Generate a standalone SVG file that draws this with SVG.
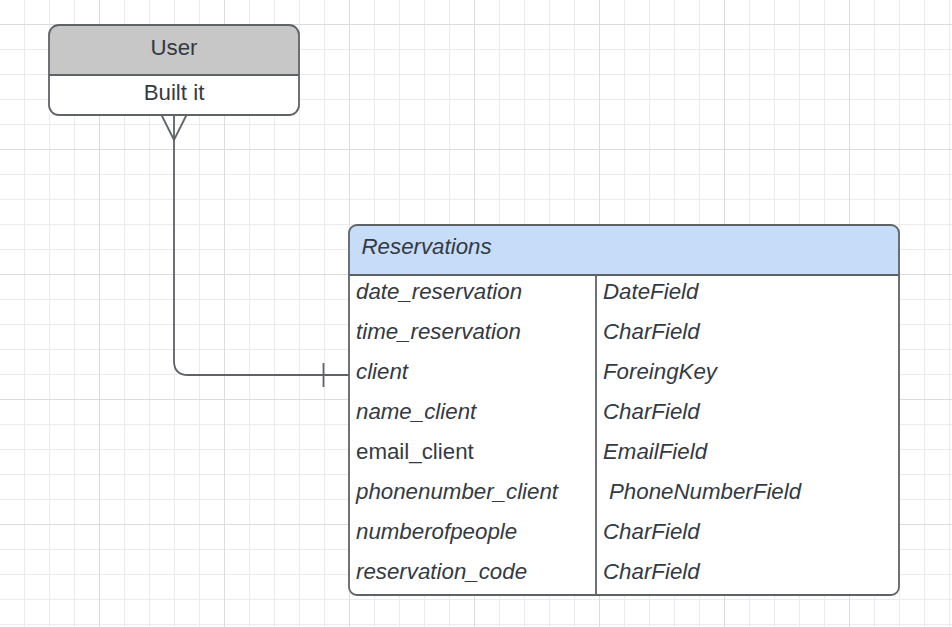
<svg xmlns="http://www.w3.org/2000/svg" width="952" height="627" viewBox="0 0 952 627">
<defs>
<pattern id="minor" patternUnits="userSpaceOnUse" x="24" y="24" width="25" height="25">
<path d="M0.5 0V25M0 0.5H25" stroke="#ebebeb" stroke-width="1" fill="none"/>
</pattern>
<pattern id="major" patternUnits="userSpaceOnUse" x="99" y="24" width="125" height="125">
<path d="M0.5 0V125M0 0.5H125" stroke="#dcdcdc" stroke-width="1" fill="none"/>
</pattern>
</defs>
<style>
.line{stroke:#5f6368;stroke-width:1.8;fill:none}
.t{font-family:"Liberation Sans",Arial,sans-serif;font-size:22.3px;fill:#333a44}
.i{font-style:italic}
</style>
<rect width="952" height="627" fill="#ffffff"/>
<rect width="952" height="627" fill="url(#minor)"/>
<rect width="952" height="627" fill="url(#major)"/>

<g id="connectors">
<path class="line" d="M174 115V361Q174 375 188 375H349"/>
<path class="line" d="M161.5 115L174 140L186.5 115"/>
<path class="line" d="M323.5 363V387"/>
</g>

<g id="user">
<rect x="49" y="25" width="250" height="90" rx="10" fill="#ffffff"/>
<path d="M59 25H289Q299 25 299 35V75H49V35Q49 25 59 25Z" fill="#c7c7c7"/>
<rect class="line" x="49" y="25" width="250" height="90" rx="10"/>
<line class="line" x1="49" y1="75" x2="299" y2="75"/>
<text class="t" x="174" y="54.5" text-anchor="middle">User</text>
<text class="t" x="174" y="99.5" text-anchor="middle">Built it</text>
</g>

<g id="reservations">
<rect x="349" y="225" width="550" height="370" rx="8" fill="#ffffff"/>
<path d="M357 225H891Q899 225 899 233V275H349V233Q349 225 357 225Z" fill="#c7dcf8"/>
<rect x="349" y="225" width="550" height="370" rx="8" class="line"/>
<line class="line" x1="349" y1="275" x2="899" y2="275"/>
<line class="line" x1="596" y1="275" x2="596" y2="595"/>
<text class="t i" x="361.5" y="254">Reservations</text>
<text class="t i" x="356" y="299">date_reservation</text>
<text class="t i" x="356" y="339">time_reservation</text>
<text class="t i" x="356" y="379">client</text>
<text class="t i" x="356" y="419">name_client</text>
<text class="t" x="356" y="459">email_client</text>
<text class="t i" x="356" y="499">phonenumber_client</text>
<text class="t i" x="356" y="539">numberofpeople</text>
<text class="t i" x="356" y="579">reservation_code</text>
<text class="t i" x="603" y="299">DateField</text>
<text class="t i" x="603" y="339">CharField</text>
<text class="t i" x="603" y="379">ForeingKey</text>
<text class="t i" x="603" y="419">CharField</text>
<text class="t i" x="603" y="459">EmailField</text>
<text class="t i" x="609" y="499">PhoneNumberField</text>
<text class="t i" x="603" y="539">CharField</text>
<text class="t i" x="603" y="579">CharField</text>
</g>
</svg>
